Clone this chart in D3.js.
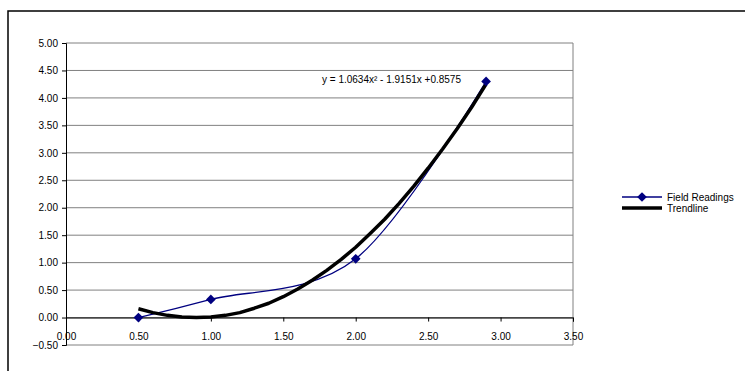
<!DOCTYPE html>
<html>
<head>
<meta charset="utf-8">
<script src="https://cdn.jsdelivr.net/npm/d3@7"></script>
<style>
  body { margin: 0; background: #fff; }
  text { font-family: "Liberation Sans", Arial, sans-serif; }
</style>
</head>
<body>
<script>
// field readings (x, y)
const readingX = [0.5, 1.0, 2.0, 2.9];
const readingY = [0.0, 0.33, 1.07, 4.30];

// trendline points
const trendX = [0.5, 0.6, 0.7, 0.8, 0.9, 1.0, 1.1, 1.2, 1.3, 1.4, 1.5, 1.6, 1.7, 1.8, 1.9, 2.0, 2.1, 2.2, 2.3, 2.4, 2.5, 2.6, 2.7, 2.8, 2.9];
const trendY = [0.16, 0.09, 0.04, 0.01, 0.0, 0.01, 0.04, 0.09, 0.17, 0.26, 0.38, 0.52, 0.68, 0.86, 1.06, 1.28, 1.53, 1.79, 2.08, 2.39, 2.72, 3.07, 3.44, 3.83, 4.25];

const xTicks = [0, 0.5, 1.0, 1.5, 2.0, 2.5, 3.0, 3.5];
const yTicks = [-0.5, 0, 0.5, 1.0, 1.5, 2.0, 2.5, 3.0, 3.5, 4.0, 4.5, 5.0];
const seriesNames = ["Field Readings", "Trendline"];
const equation = "y = 1.0634x² - 1.9151x +0.8575";

const width = 745, height = 371;
const plotLeft = 66, plotRight = 573, plotTop = 43, plotBottom = 345;

const svg = d3.select('body').append('svg')
  .attr('width', width)
  .attr('height', height);

// outer chart area border
svg.append('rect')
  .attr('x', 8).attr('y', 11)
  .attr('width', 760).attr('height', 380)
  .attr('fill', 'none')
  .attr('stroke', '#000')
  .attr('stroke-width', 1.5);

const x = d3.scaleLinear().domain([0, 3.5]).range([plotLeft, plotRight]);
const y = d3.scaleLinear().domain([-0.5, 5]).range([plotBottom, plotTop]);

// gridlines
svg.append('g')
  .selectAll('line')
  .data(yTicks)
  .join('line')
  .attr('x1', plotLeft).attr('x2', plotRight)
  .attr('y1', d => y(d)).attr('y2', d => y(d))
  .attr('stroke', '#808080')
  .attr('stroke-width', 1);

// plot border right
svg.append('line')
  .attr('x1', plotRight).attr('x2', plotRight)
  .attr('y1', plotTop).attr('y2', plotBottom)
  .attr('stroke', '#808080');

// y axis
const yAxis = svg.append('g')
  .attr('transform', `translate(${plotLeft},0)`)
  .call(d3.axisLeft(y).tickValues(yTicks).tickFormat(d3.format('.2f')).tickSize(4).tickPadding(4));
yAxis.select('.domain').attr('stroke', '#000');
yAxis.selectAll('text').attr('font-size', 10).attr('fill', '#000')
  .attr('font-family', '"Liberation Sans", Arial, sans-serif');

// x axis at y = 0, labels pushed down near the bottom
const xAxis = svg.append('g')
  .attr('transform', `translate(0,${y(0)})`)
  .call(d3.axisBottom(x).tickValues(xTicks).tickFormat(d3.format('.2f')).tickSize(4).tickPadding(11));
xAxis.select('.domain').attr('stroke', '#000');
xAxis.selectAll('text').attr('font-size', 10).attr('fill', '#000')
  .attr('font-family', '"Liberation Sans", Arial, sans-serif');

const readings = readingX.map((d, i) => [d, readingY[i]]);
const trend = trendX.map((d, i) => [d, trendY[i]]);

// field readings line (smoothed)
svg.append('path')
  .datum(readings)
  .attr('d', d3.line().x(d => x(d[0])).y(d => y(d[1])).curve(d3.curveCatmullRom.alpha(0)))
  .attr('fill', 'none')
  .attr('stroke', '#000080')
  .attr('stroke-width', 1.3);

// trendline
svg.append('path')
  .datum(trend)
  .attr('d', d3.line().x(d => x(d[0])).y(d => y(d[1])))
  .attr('fill', 'none')
  .attr('stroke', '#000')
  .attr('stroke-width', 3.5)
  .attr('stroke-linejoin', 'round');

// markers
const diamond = d3.symbol().type(d3.symbolDiamond2).size(60);
svg.append('g')
  .selectAll('path')
  .data(readings)
  .join('path')
  .attr('d', diamond)
  .attr('transform', d => `translate(${x(d[0])},${y(d[1])})`)
  .attr('fill', '#000080');

// equation label
svg.append('text')
  .attr('x', 322).attr('y', 83)
  .attr('font-size', 10)
  .text(equation);

// legend
const lg = svg.append('g').attr('transform', 'translate(622,197)');
lg.append('line').attr('x1', 0).attr('x2', 40).attr('y1', 0).attr('y2', 0)
  .attr('stroke', '#000080').attr('stroke-width', 1.3);
lg.append('path').attr('d', diamond).attr('transform', 'translate(20,0)').attr('fill', '#000080');
lg.append('text').attr('x', 45).attr('y', 3.5).attr('font-size', 10).text(seriesNames[0]);
lg.append('line').attr('x1', 0).attr('x2', 40).attr('y1', 11).attr('y2', 11)
  .attr('stroke', '#000').attr('stroke-width', 3.5);
lg.append('text').attr('x', 45).attr('y', 14.5).attr('font-size', 10).text(seriesNames[1]);
</script>
</body>
</html>
